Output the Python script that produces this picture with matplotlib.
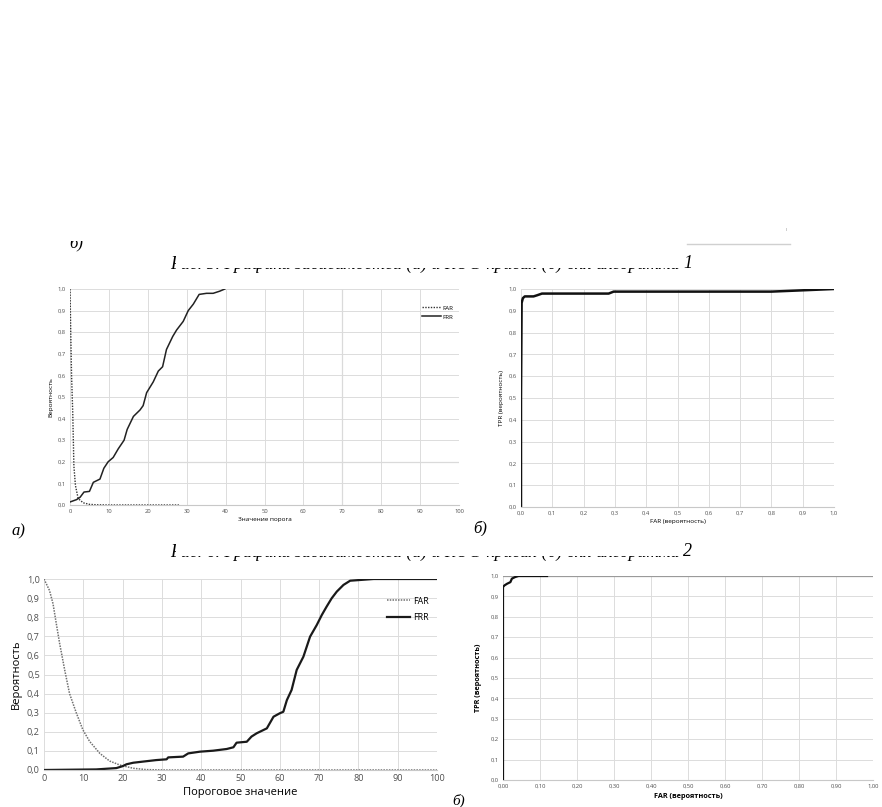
import matplotlib
matplotlib.use("Agg")
import matplotlib.pyplot as plt
from matplotlib.lines import Line2D
from matplotlib.patches import Rectangle
import numpy as np

plt.rcParams['font.family'] = ['Open Sans', 'DejaVu Sans']

W, H = 882, 807

# ---------------- data ----------------
# Panel a) (algorithm 1): FAR / FRR vs threshold
thr_far1 = [0, 0.2, 0.4, 0.7, 1.0, 1.4, 2.1, 3.4, 5.0, 6.8, 10, 15, 20, 28]
far1 = [1.0, 0.79, 0.60, 0.43, 0.18, 0.09, 0.03, 0.01, 0.003, 0.001, 0.0, 0.0, 0.0, 0.0]
thr_frr1 = [0, 1.7, 2.6, 3.6, 5.0, 6.0, 7.7, 8.7, 9.8, 11.1, 12.4, 13.9, 14.7, 16.3,
            18.0, 18.8, 19.7, 21.4, 22.7, 23.8, 24.8, 26.4, 27.4, 29.1, 30.4, 31.7,
            33.2, 35.1, 36.8, 38.5, 39.8]
frr1 = [0.014, 0.025, 0.036, 0.06, 0.063, 0.105, 0.12, 0.17, 0.20, 0.22, 0.26, 0.30,
        0.35, 0.41, 0.44, 0.46, 0.52, 0.57, 0.62, 0.64, 0.72, 0.78, 0.81, 0.85, 0.90,
        0.93, 0.975, 0.98, 0.98, 0.99, 1.0]

# Panel б) (algorithm 1): ROC
roc1_far = [0.0, 0.0, 0.002, 0.006, 0.012, 0.04, 0.051, 0.067, 0.28, 0.296, 0.8, 1.0]
roc1_tpr = [0.0, 0.5, 0.936, 0.958, 0.966, 0.966, 0.971, 0.979, 0.979, 0.988, 0.988, 1.0]

# Panel a) (algorithm 2): FAR / FRR vs threshold
thr_far2 = [0, 1.4, 2.3, 3.1, 4.0, 5.3, 6.5, 8.2, 9.9, 11.6, 14.2, 16.7, 19.3, 22.7, 26, 31, 100]
far2 = [1.0, 0.94, 0.87, 0.77, 0.66, 0.52, 0.40, 0.30, 0.21, 0.15, 0.087, 0.047, 0.026,
        0.009, 0.002, 0.0, 0.0]
thr_frr2 = [0, 13.3, 18.4, 20.0, 21.0, 22.7, 25.2, 28.6, 31.2, 31.6, 35.4, 36.7, 39.7,
            43.0, 46.5, 48.2, 49.0, 51.6, 52.8, 54.1, 56.7, 58.4, 60.0, 60.9, 61.8, 63.0,
            64.3, 66.0, 67.7, 69.4, 70.7, 71.9, 73.2, 74.5, 76.2, 77.9, 80.5, 83.9, 100]
frr2 = [0.0, 0.003, 0.01, 0.02, 0.03, 0.038, 0.044, 0.052, 0.056, 0.066, 0.07, 0.087,
        0.096, 0.101, 0.11, 0.119, 0.143, 0.148, 0.175, 0.192, 0.218, 0.279, 0.297,
        0.305, 0.366, 0.419, 0.524, 0.593, 0.698, 0.759, 0.812, 0.855, 0.899, 0.934,
        0.969, 0.991, 0.995, 1.0, 1.0]

# Panel б) (algorithm 2): ROC
roc2_far = [0.0, 0.0, 0.004, 0.011, 0.020, 0.024, 0.033, 0.042, 0.119]
roc2_tpr = [0.0, 0.946, 0.954, 0.962, 0.970, 0.987, 0.995, 1.0, 1.0]

y_ticks = [round(0.1 * i, 1) for i in range(11)]
y_labels = ['0,0', '0,1', '0,2', '0,3', '0,4', '0,5', '0,6', '0,7', '0,8', '0,9', '1,0']
thr_ticks = list(range(0, 101, 10))
far_ticks = y_ticks
far_labels_1 = y_labels
far_labels_2 = ['0,00', '0,10', '0,20', '0,30', '0,40', '0,50', '0,60', '0,70', '0,80', '0,90', '1,00']

cap1 = 'Рис. 5. Графики зависимостей (а) и ROC-кривая (б) для алгоритма'
cap2 = 'Рис. 6. Графики зависимостей (а) и ROC-кривая (б) для алгоритма'

# ---------------- figure ----------------
fig = plt.figure(figsize=(W / 100, H / 100), dpi=100)
fig.patch.set_facecolor('white')


def px_axes(x0, y0, x1, y1):
    return fig.add_axes([x0 / W, 1 - y1 / H, (x1 - x0) / W, (y1 - y0) / H])


def excel_style(ax, xt, xl, xlim, fs, grid_c='#dcdcdc'):
    ax.set_xlim(*xlim)
    ax.set_ylim(0, 1.0)
    ax.set_xticks(xt)
    ax.set_xticklabels(xl)
    ax.set_yticks(y_ticks)
    ax.set_yticklabels(y_labels)
    ax.tick_params(length=0, labelsize=fs, colors='#505050', pad=3)
    for s in ['top', 'right', 'left']:
        ax.spines[s].set_visible(False)
    ax.spines['bottom'].set_color('#c8c8c8')
    ax.spines['bottom'].set_linewidth(0.8)
    ax.grid(True, color=grid_c, linewidth=0.7)
    ax.set_axisbelow(True)


# Panel a) top
axA = px_axes(70, 289, 459, 505)
excel_style(axA, thr_ticks, [str(t) for t in thr_ticks], (0, 100), 4.2)
axA.axvline(70, color='#a8a8a8', lw=0.8, zorder=0)
axA.axhline(0.2, color='#a8a8a8', lw=0.8, zorder=0)
axA.plot(thr_far1, far1, color='#333333', lw=1.0, ls=(0, (1, 1)), label='FAR')
axA.plot(thr_frr1, frr1, color='#222222', lw=1.1, label='FRR')
axA.legend(loc='upper right', bbox_to_anchor=(1.0, 0.95), frameon=False, fontsize=4.4,
           handlelength=3, labelspacing=0.6, handletextpad=0.3)
axA.set_xlabel('Значение порога', fontsize=4.6, labelpad=2)
axA.set_ylabel('Вероятность', fontsize=4.6, labelpad=3)

# Panel б) top
axB = px_axes(521, 289, 834, 507)
excel_style(axB, far_ticks, far_labels_1, (0, 1.0), 4.2)
axB.plot(roc1_far, roc1_tpr, color='#111111', lw=1.8)
axB.set_xlabel('FAR (вероятность)', fontsize=4.6, labelpad=2)
axB.set_ylabel('TPR (вероятность)', fontsize=4.6, labelpad=3)

# Panel a) bottom
axC = px_axes(44, 579, 437, 770)
excel_style(axC, thr_ticks, [str(t) for t in thr_ticks], (0, 100), 6.6)
axC.plot(thr_far2, far2, color='#707070', lw=1.1, ls=(0, (1, 0.8)), label='FAR')
axC.plot(thr_frr2, frr2, color='#1a1a1a', lw=1.6, label='FRR')
axC.legend(loc='upper right', bbox_to_anchor=(1.0, 0.95), frameon=False, fontsize=6.4,
           handlelength=2.5, labelspacing=0.8, handletextpad=0.4)
axC.set_xlabel('Пороговое значение', fontsize=8, labelpad=3)
axC.set_ylabel('Вероятность', fontsize=8, labelpad=4)

# Panel б) bottom
axD = px_axes(503, 576, 873, 780)
excel_style(axD, far_ticks, far_labels_2, (0, 1.0), 4.2)
axD.axhline(1.0, color='#9a9a9a', lw=0.9, zorder=1)
axD.plot(roc2_far, roc2_tpr, color='#111111', lw=1.6, zorder=3)
axD.set_xlabel('FAR (вероятность)', fontsize=5.2, fontweight='bold', labelpad=3)
axD.set_ylabel('TPR (вероятность)', fontsize=5.2, fontweight='bold', labelpad=6)

# ---------------- scanned caption fragments ----------------
serif = ['Liberation Serif', 'DejaVu Serif']
renderer = fig.canvas.get_renderer()


def fig_text_px(x, y, s, fs, target_w=None, **kw):
    t = fig.text(x / W, 1 - y / H, s, fontsize=fs, family=serif, style='italic',
                 va='baseline', ha='left', color='black', **kw)
    if target_w is not None:
        w = t.get_window_extent(renderer).width
        t.set_fontsize(fs * target_w / w)
    return t


def white_mask(x0, y0, x1, y1):
    fig.add_artist(Rectangle((x0 / W, 1 - y1 / H), (x1 - x0) / W, (y1 - y0) / H,
                             transform=fig.transFigure, facecolor='white',
                             edgecolor='none', zorder=20))


# caption lines: only their lower edge survived in the scan
fig_text_px(170, 268.5, cap1, 13, target_w=508)
fig_text_px(170, 556.5, cap2, 13, target_w=508)
white_mask(176, 248, 681, 268)
white_mask(176, 536, 681, 556)
fig_text_px(683, 268, '1', 13)
fig_text_px(683, 556, '2', 13)

# partially visible panel letters
fig_text_px(69, 248, 'б)', 12)
white_mask(62, 228, 95, 241)
fig_text_px(12, 535, 'а)', 12)
fig_text_px(473, 533, 'б)', 12)
white_mask(470, 510, 495, 521)
fig_text_px(452, 805, 'б)', 11)

fig.add_artist(Line2D([687 / W, 790 / W], [1 - 244 / H, 1 - 244 / H],
                      color='#d0d0d0', lw=1.0))
fig.text(786 / W, 1 - 231 / H, 'ı', fontsize=4, color='#999999')

fig.savefig('out.png', dpi=100, facecolor='white')
